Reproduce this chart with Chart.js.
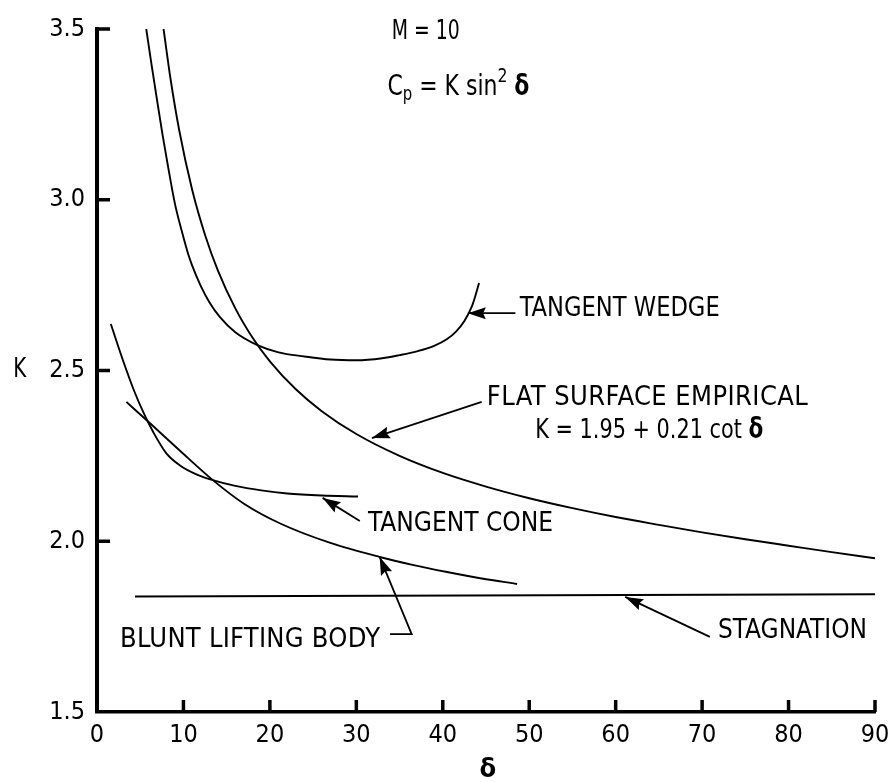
<!DOCTYPE html>
<html><head><meta charset="utf-8">
<script src="https://cdn.jsdelivr.net/npm/chart.js@4.4.1/dist/chart.umd.min.js"></script>
<style>html,body{margin:0;padding:0;background:#fff}#wrap{width:891px;height:782px;position:relative}</style>
</head><body><div id="wrap"><canvas id="c" width="891" height="782"></canvas></div>
<script>
// ---- data ----
const xTickValues = [0, 10, 20, 30, 40, 50, 60, 70, 80, 90];
const yTickValues = [1.5, 2.0, 2.5, 3.0, 3.5];

const tangentWedgeX = [5.7, 6.3, 7.0, 7.6, 8.2, 9.0, 10.0, 10.5, 11.0, 12.0, 13.0, 14.2, 16.0, 18.5, 21.0, 24.0, 27.0, 30.0, 33.0, 35.0, 37.0, 39.0, 40.5, 41.5, 42.5, 43.4, 44.2];
const tangentWedgeK = [3.5, 3.397, 3.283, 3.188, 3.10, 2.99, 2.89, 2.845, 2.808, 2.748, 2.70, 2.657, 2.612, 2.575, 2.553, 2.541, 2.532, 2.530, 2.536, 2.545, 2.556, 2.572, 2.592, 2.613, 2.645, 2.69, 2.756];

const flatSurfaceX = [7.7, 8.5, 9.5, 11, 12.5, 14, 16, 18, 20, 23, 26, 30, 35, 40, 45, 50, 55, 60, 65, 70, 75, 80, 85, 90];
const flatSurfaceK = [3.5, 3.355, 3.205, 3.03, 2.897, 2.792, 2.682, 2.596, 2.527, 2.445, 2.381, 2.314, 2.25, 2.2, 2.16, 2.126, 2.097, 2.071, 2.048, 2.026, 2.006, 1.987, 1.968, 1.95];

const tangentConeX = [1.6, 3.0, 4.3, 5.5, 6.5, 8, 9.6, 11.5, 13.4, 16, 19, 22, 26, 30.2];
const tangentConeK = [2.636, 2.53, 2.44, 2.37, 2.32, 2.258, 2.222, 2.196, 2.179, 2.162, 2.149, 2.14, 2.134, 2.131];

const bluntBodyX = [3.4, 6.2, 9.6, 13.4, 17, 21.2, 27, 32.7, 36.5, 40.5, 44.5, 48.6];
const bluntBodyK = [2.408, 2.344, 2.265, 2.179, 2.11, 2.052, 1.995, 1.954, 1.931, 1.91, 1.891, 1.875];

const stagnationX = [4.4, 90];
const stagnationK = [1.838, 1.845];

// ---- helpers ----
function hasFont(name){
  const c=document.createElement('canvas').getContext('2d');
  const s='abcdefghijklmnopQRSTUVWXYZ0123456789';
  let diff=false;
  for(const fb of ['monospace','serif']){
    c.font='40px '+fb; const a=c.measureText(s).width;
    c.font='40px "'+name+'", '+fb; const b=c.measureText(s).width;
    if(Math.abs(a-b)>0.5) diff=true;
  }
  return diff;
}
const NARROW = hasFont('Liberation Sans Narrow') ? 'Liberation Sans Narrow'
  : (hasFont('DejaVu Sans Condensed') ? 'DejaVu Sans Condensed' : 'Liberation Sans');
const FAM = '"'+NARROW+'", "Liberation Sans", Arial, sans-serif';

const pts = (xs, ys) => xs.map((x, i) => ({x, y: ys[i]}));

// annotation layout (in data coordinates)
const texts = [
  {t:'M = 10', x:34.1, y:3.5, w:68, size:27},
  {t:'TANGENT WEDGE', x:48.9, y:2.689, w:200, size:27},
  {t:'FLAT SURFACE EMPIRICAL', x:45.1, y:2.428, w:321, size:27},
  {t:'TANGENT CONE', x:31.35, y:2.059, w:185, size:27},
  {t:'BLUNT LIFTING BODY', x:2.66, y:1.72, w:260, size:27},
  {t:'STAGNATION', x:71.84, y:1.746, w:149, size:27},
  {t:'K', x:-9.7, y:2.508, w:13, size:27}
];
const arrows = [
  [[48.4,2.668],[42.9,2.668]],
  [[44.5,2.408],[31.8,2.302]],
  [[30.4,2.059],[26.1,2.127]],
  [[33.9,1.728],[36.4,1.728],[32.7,1.954]],
  [[70.9,1.720],[61.1,1.837]]
];

function fitText(ctx, str, x, cy, w, size, bold){
  ctx.save();
  ctx.font = (bold?'bold ':'') + size + 'px ' + FAM;
  ctx.textBaseline = 'alphabetic';
  ctx.textAlign = 'left';
  const nat = ctx.measureText(str).width;
  const base = cy + 0.36*size;
  if (nat < w && str.length > 1 && 'letterSpacing' in ctx) {
    ctx.letterSpacing = ((w - nat) / (str.length - 1)) + 'px';
    ctx.fillText(str, x, base);
  } else {
    ctx.translate(x, base);
    ctx.scale(w / nat, 1);
    ctx.fillText(str, 0, 0);
  }
  ctx.restore();
}
function richText(ctx, segs, x, base, w){
  ctx.save();
  ctx.textBaseline = 'alphabetic';
  let nat = 0;
  for (const s of segs){ ctx.font = (s.bold?'bold ':'') + s.size + 'px ' + FAM; s.w = ctx.measureText(s.t).width; nat += s.w; }
  ctx.translate(x, base);
  ctx.scale(w / nat, 1);
  let cx = 0;
  for (const s of segs){ ctx.font = (s.bold?'bold ':'') + s.size + 'px ' + FAM; ctx.fillText(s.t, cx, s.dy || 0); cx += s.w; }
  ctx.restore();
}
function arrowPath(ctx, p){
  ctx.beginPath();
  ctx.moveTo(p[0][0], p[0][1]);
  for (let i=1;i<p.length;i++) ctx.lineTo(p[i][0], p[i][1]);
  ctx.stroke();
  const a = p[p.length-2], b = p[p.length-1];
  const ang = Math.atan2(b[1]-a[1], b[0]-a[0]);
  const L = 18, H = 6;
  ctx.beginPath();
  ctx.moveTo(b[0], b[1]);
  ctx.lineTo(b[0] - L*Math.cos(ang) + H*Math.sin(ang), b[1] - L*Math.sin(ang) - H*Math.cos(ang));
  ctx.lineTo(b[0] - L*0.85*Math.cos(ang), b[1] - L*0.85*Math.sin(ang));
  ctx.lineTo(b[0] - L*Math.cos(ang) - H*Math.sin(ang), b[1] - L*Math.sin(ang) + H*Math.cos(ang));
  ctx.closePath();
  ctx.fill();
}

const annot = {
  id: 'annot',
  afterDraw(chart){
    const {ctx, scales:{x, y}} = chart;
    const X = v => x.getPixelForValue(v), Y = v => y.getPixelForValue(v);
    ctx.save();
    ctx.fillStyle = '#000'; ctx.strokeStyle = '#000';
    // inward tick marks
    ctx.lineWidth = 3.5;
    for (const v of xTickValues.slice(1)) { ctx.beginPath(); ctx.moveTo(X(v), Y(1.5)); ctx.lineTo(X(v), Y(1.5) - 12); ctx.stroke(); }
    for (const v of yTickValues.slice(1)) { ctx.beginPath(); ctx.moveTo(X(0), Y(v)); ctx.lineTo(X(0) + 13, Y(v)); ctx.stroke(); }
    // texts
    for (const t of texts) fitText(ctx, t.t, X(t.x), Y(t.y), t.w, t.size, false);
    // formula lines
    richText(ctx, [
      {t:'C', size:28}, {t:'p', size:19, dy:5}, {t:' = K sin', size:28}, {t:'2', size:20, dy:-13}, {t:' ', size:28}, {t:'δ', size:28, bold:true}
    ], X(33.6), Y(3.307), 142);
    richText(ctx, [
      {t:'K = 1.95 + 0.21 cot ', size:27}, {t:'δ', size:28, bold:true}
    ], X(50.7), Y(2.302), 228);
    // x axis title
    ctx.font = 'bold 27px ' + FAM; ctx.textAlign = 'center'; ctx.textBaseline = 'middle';
    ctx.fillText('δ', X(45.2), Y(1.33));
    // arrows
    ctx.lineWidth = 1.8;
    for (const a of arrows) arrowPath(ctx, a.map(p => [X(p[0]), Y(p[1])]));
    ctx.restore();
  }
};

const lineDs = (data) => ({
  data, showLine: true, borderColor: '#000', backgroundColor: '#000', borderWidth: 1.9,
  pointRadius: 0, cubicInterpolationMode: 'monotone', fill: false
});

new Chart(document.getElementById('c'), {
  type: 'scatter',
  data: { datasets: [
    lineDs(pts(tangentWedgeX, tangentWedgeK)),
    lineDs(pts(flatSurfaceX, flatSurfaceK)),
    lineDs(pts(tangentConeX, tangentConeK)),
    lineDs(pts(bluntBodyX, bluntBodyK)),
    lineDs(pts(stagnationX, stagnationK))
  ]},
  options: {
    responsive: false, animation: false, devicePixelRatio: 1,
    layout: { padding: { left: 0, right: 16, top: 29, bottom: 0 } },
    plugins: { legend: { display: false }, tooltip: { enabled: false } },
    scales: {
      x: {
        type: 'linear', min: 0, max: 90,
        afterFit: s => { s.height = 70; s.paddingLeft = 0; s.paddingRight = 0; },
        afterBuildTicks: s => { s.ticks = xTickValues.map(v => ({value: v})); },
        grid: { display: false, drawTicks: false },
        border: { display: true, color: '#000', width: 3.5 },
        ticks: { color: '#000', padding: 8, maxRotation: 0, autoSkip: false, font: { family: FAM, size: 25 }, callback: v => String(v) }
      },
      y: {
        type: 'linear', min: 1.5, max: 3.5,
        afterFit: s => { s.width = 97; s.paddingTop = 0; s.paddingBottom = 0; },
        afterBuildTicks: s => { s.ticks = yTickValues.map(v => ({value: v})); },
        grid: { display: false, drawTicks: false },
        border: { display: true, color: '#000', width: 4 },
        ticks: { color: '#000', padding: 12, autoSkip: false, font: { family: FAM, size: 25 }, callback: v => Number(v).toFixed(1) }
      }
    }
  },
  plugins: [annot]
});
</script>
</body></html>
